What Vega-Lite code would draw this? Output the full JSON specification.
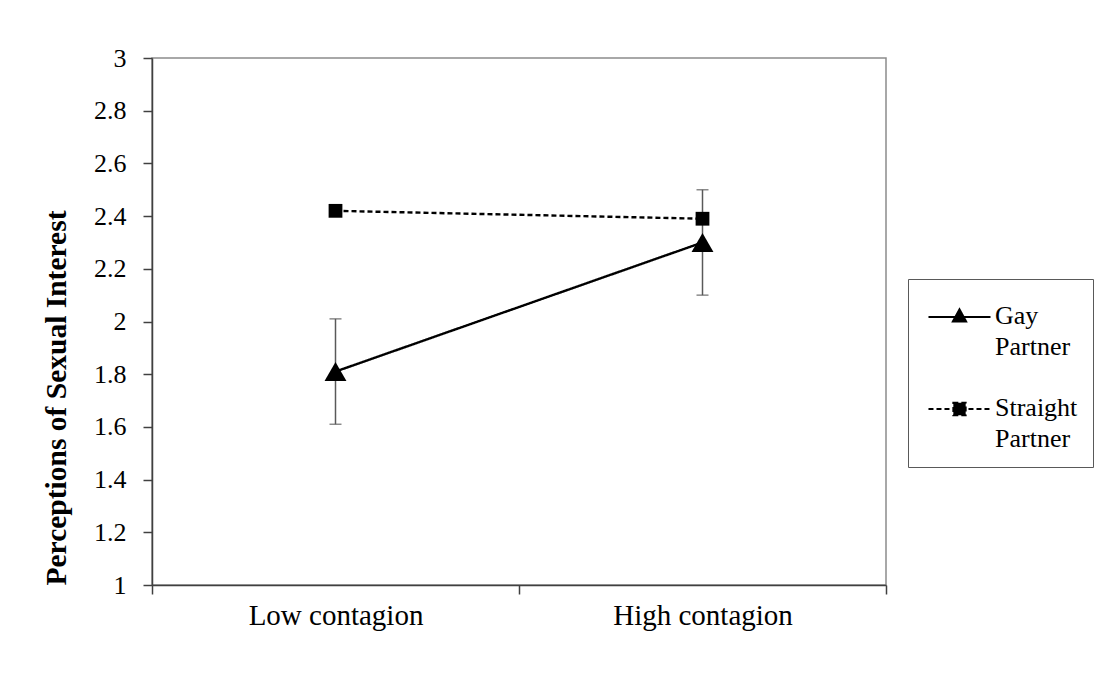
{
  "$schema": "https://vega.github.io/schema/vega-lite/v6.json",
  "width": 734,
  "height": 527,
  "autosize": {"type": "none"},
  "padding": {"left": 152, "top": 58, "right": 209, "bottom": 90},
  "background": "white",
  "config": {
    "font": "Liberation Serif",
    "view": {"stroke": "#8c8c8c", "strokeWidth": 1.5},
    "axis": {"grid": false, "labelFont": "Liberation Serif", "titleFont": "Liberation Serif", "labelColor": "#000000", "titleColor": "#000000", "domainColor": "#404040", "tickColor": "#404040", "domainWidth": 1.5, "tickWidth": 1.5}
  },
  "data": {
    "values": [
      {"series": "Gay Partner", "condition": "Low contagion", "mean": 1.81, "lo": 1.61, "hi": 2.01},
      {"series": "Gay Partner", "condition": "High contagion", "mean": 2.30, "lo": 2.10, "hi": 2.50},
      {"series": "Straight Partner", "condition": "Low contagion", "mean": 2.42, "lo": null, "hi": null},
      {"series": "Straight Partner", "condition": "High contagion", "mean": 2.39, "lo": null, "hi": null}
    ]
  },
  "encoding": {
    "x": {
      "field": "condition",
      "type": "nominal",
      "sort": ["Low contagion", "High contagion"],
      "scale": {"type": "band", "paddingInner": 0, "paddingOuter": 0},
      "axis": {"title": null, "labelAngle": 0, "labelFontSize": 29, "tickBand": "extent", "tickSize": 9, "labelPadding": 7}
    }
  },
  "layer": [
    {
      "transform": [{"filter": "datum.lo != null"}],
      "mark": {"type": "rule", "color": "#595959", "strokeWidth": 1.5},
      "encoding": {
        "y": {"field": "lo", "type": "quantitative"},
        "y2": {"field": "hi"}
      }
    },
    {
      "transform": [{"filter": "datum.lo != null"}],
      "mark": {"type": "tick", "color": "#595959", "size": 12, "thickness": 1.5},
      "encoding": {"y": {"field": "lo", "type": "quantitative"}}
    },
    {
      "transform": [{"filter": "datum.lo != null"}],
      "mark": {"type": "tick", "color": "#595959", "size": 12, "thickness": 1.5},
      "encoding": {"y": {"field": "hi", "type": "quantitative"}}
    },
    {
      "mark": {"type": "line", "color": "black", "strokeWidth": 2.4},
      "encoding": {
        "y": {"field": "mean", "type": "quantitative"},
        "strokeDash": {
          "field": "series",
          "type": "nominal",
          "scale": {"domain": ["Gay Partner", "Straight Partner"], "range": [[1, 0], [5, 3]]},
          "legend": {
            "title": null,
            "orient": "none",
            "legendX": 756,
            "legendY": 221,
            "direction": "vertical",
            "strokeColor": "#595959",
            "fillColor": "white",
            "padding": 15,
            "symbolSize": 1936,
            "symbolOffset": 13.5,
            "symbolStrokeWidth": 2,
            "symbolStrokeColor": "black",
            "symbolFillColor": "black",
            "labelFont": "Liberation Serif",
            "labelFontSize": 26,
            "labelColor": "#000000",
            "labelOffset": 12.5,
            "labelBaseline": "top",
            "labelLimit": 300,
            "rowPadding": 26,
            "labelExpr": "split(datum.label, ' ')",
            "encode": {
              "symbols": {
                "update": {
                  "shape": {"signal": "datum.value === 'Gay Partner' ? 'M-1.41,0L1.41,0M-0.3,0.2L0,-0.35L0.3,0.2Z' : 'M-1.41,0L1.41,0M-0.28,-0.28L0.28,-0.28L0.28,0.28L-0.28,0.28Z'"},
                  "fill": {"value": "black"},
                  "stroke": {"value": "black"},
                  "opacity": {"value": 1}
                }
              },
              "labels": {
                "update": {"dy": {"value": -14}, "lineHeight": {"value": 31}}
              }
            }
          }
        }
      }
    },
    {
      "transform": [{"filter": "datum.series === 'Gay Partner'"}],
      "mark": {"type": "point", "filled": true, "color": "black", "opacity": 1, "shape": "triangle-up", "size": 480},
      "encoding": {
        "y": {
          "field": "mean",
          "type": "quantitative",
          "scale": {"domain": [1, 3], "nice": false, "zero": false},
          "axis": {
            "title": "Perceptions of Sexual Interest",
            "titleFontSize": 29.5,
            "titleFontWeight": "bold",
            "titleAnchor": "start",
            "titlePadding": 22,
            "values": [1, 1.2, 1.4, 1.6, 1.8, 2, 2.2, 2.4, 2.6, 2.8, 3],
            "format": "~g",
            "labelFontSize": 26,
            "tickSize": 9,
            "labelPadding": 17
          }
        }
      }
    },
    {
      "transform": [{"filter": "datum.series === 'Straight Partner'"}],
      "mark": {"type": "point", "filled": true, "color": "black", "opacity": 1, "shape": "square", "size": 190},
      "encoding": {
        "y": {"field": "mean", "type": "quantitative"}
      }
    }
  ]
}
